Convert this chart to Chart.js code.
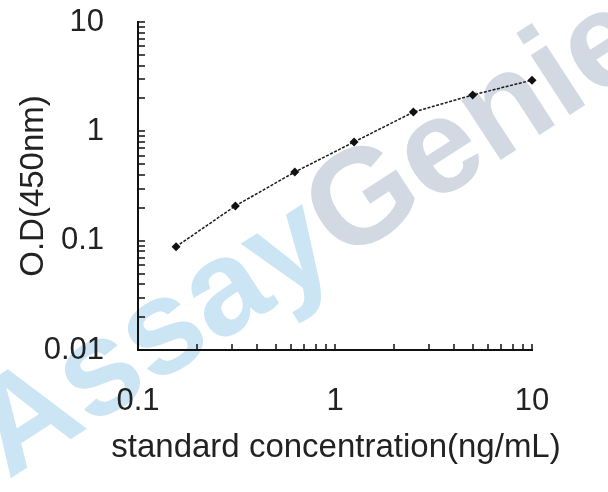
<!DOCTYPE html>
<html>
<head>
<meta charset="utf-8">
<script src="https://cdn.jsdelivr.net/npm/chart.js@4.4.1/dist/chart.umd.min.js"></script>
<style>
  html, body { margin: 0; padding: 0; background: #ffffff; }
  #wrap { width: 608px; height: 492px; }
</style>
</head>
<body>
<div id="wrap"><canvas id="graficoCurva" width="608" height="492"></canvas></div>
<script>
const concentracoes = [0.156, 0.312, 0.625, 1.25, 2.5, 5, 10];
const valoresOD = [0.088, 0.208, 0.424, 0.80, 1.50, 2.15, 2.94];

// marcas dos eixos (log, com subdivisões 2..9)
const ticksX = [0.1, 0.2, 0.3, 0.4, 0.5, 0.6, 0.7, 0.8, 0.9,
                1, 2, 3, 4, 5, 6, 7, 8, 9, 10];
const rotulosX = { 0.1: '0.1', 1: '1', 10: '10' };
const ticksY = [0.01, 0.02, 0.03, 0.04, 0.05, 0.06, 0.07, 0.08, 0.09,
                0.1, 0.2, 0.3, 0.4, 0.5, 0.6, 0.7, 0.8, 0.9,
                1, 2, 3, 4, 5, 6, 7, 8, 9, 10];
const rotulosY = { 0.01: '0.01', 0.1: '0.1', 1: '1', 10: '10' };
const tituloX = 'standard concentration(ng/mL)';
const tituloY = 'O.D(450nm)';

const fonte = "'Liberation Sans', Arial, sans-serif";

// marca d'água ao fundo
const marcaDagua = {
    id: 'marcaDagua',
    beforeDraw(chart) {
        const ctx = chart.ctx;
        ctx.save();
        ctx.translate(8, 480);
        ctx.rotate(-33 * Math.PI / 180);
        ctx.font = "bold 135px " + fonte;
        ctx.textBaseline = 'alphabetic';
        ctx.fillStyle = '#cbe5f5';
        ctx.fillText('Assay', 0, 0);
        const w = ctx.measureText('Assay').width;
        ctx.fillStyle = '#d2d9e2';
        ctx.fillText('Genie', w, 0);
        ctx.restore();
    }
};

// tracinhos para dentro da área + título do eixo X (sem limite de largura)
const tracinhos = {
    id: 'tracinhos',
    afterDraw(chart) {
        const ctx = chart.ctx;
        const { left, right, bottom } = chart.chartArea;
        const sx = chart.scales.x, sy = chart.scales.y;
        ctx.save();
        ctx.strokeStyle = '#111';
        ctx.lineWidth = 1.5;
        ctx.beginPath();
        ticksX.forEach(v => {
            const px = Math.round(sx.getPixelForValue(v));
            ctx.moveTo(px, bottom);
            ctx.lineTo(px, bottom - 6);
        });
        ticksY.forEach(v => {
            const py = Math.round(sy.getPixelForValue(v));
            ctx.moveTo(left, py);
            ctx.lineTo(left + 7, py);
        });
        ctx.stroke();

        ctx.fillStyle = '#222';
        ctx.font = "33px " + fonte;
        ctx.textAlign = 'center';
        ctx.textBaseline = 'alphabetic';
        ctx.fillText(tituloX, (left + right) / 2 + 1, sx.bottom - 35);
        ctx.restore();
    }
};

const ctx = document.getElementById('graficoCurva').getContext('2d');
new Chart(ctx, {
    type: 'scatter',
    data: {
        datasets: [{
            label: 'OD',
            data: concentracoes.map((c, i) => ({ x: c, y: valoresOD[i] })),
            showLine: true,
            borderColor: '#1a1a1a',
            borderWidth: 1.5,
            borderDash: [3, 1.5],
            backgroundColor: '#111',
            pointStyle: 'rectRot',
            pointRadius: 4.5,
            pointBorderWidth: 0,
            tension: 0,
            clip: false
        }]
    },
    options: {
        responsive: false,
        animation: false,
        layout: { padding: { top: 22, right: 76, left: 0, bottom: 0 } },
        plugins: {
            legend: { display: false },
            tooltip: { enabled: false }
        },
        scales: {
            x: {
                type: 'logarithmic',
                min: 0.1,
                max: 10,
                afterFit: s => { s.height = 142; },
                afterBuildTicks: s => { s.ticks = ticksX.map(v => ({ value: v })); },
                grid: { display: false, drawTicks: false },
                border: { display: true, color: '#111', width: 2 },
                ticks: {
                    autoSkip: false,
                    maxRotation: 0,
                    padding: 33,
                    color: '#222',
                    font: { family: fonte, size: 31 },
                    callback: v => rotulosX[v] || ''
                },
                title: { display: false }
            },
            y: {
                type: 'logarithmic',
                min: 0.01,
                max: 10,
                afterFit: s => { s.width = 138; s.paddingTop = 0; s.paddingBottom = 0; },
                afterBuildTicks: s => { s.ticks = ticksY.map(v => ({ value: v })); },
                grid: { display: false, drawTicks: false },
                border: { display: true, color: '#111', width: 2 },
                ticks: {
                    autoSkip: false,
                    padding: 34,
                    color: '#222',
                    font: { family: fonte, size: 31 },
                    callback: v => rotulosY[v] || ''
                },
                title: {
                    display: true,
                    text: tituloY,
                    color: '#222',
                    font: { family: fonte, size: 33 },
                    padding: { top: 14, bottom: 0 }
                }
            }
        }
    },
    plugins: [marcaDagua, tracinhos]
});
</script>
</body>
</html>
